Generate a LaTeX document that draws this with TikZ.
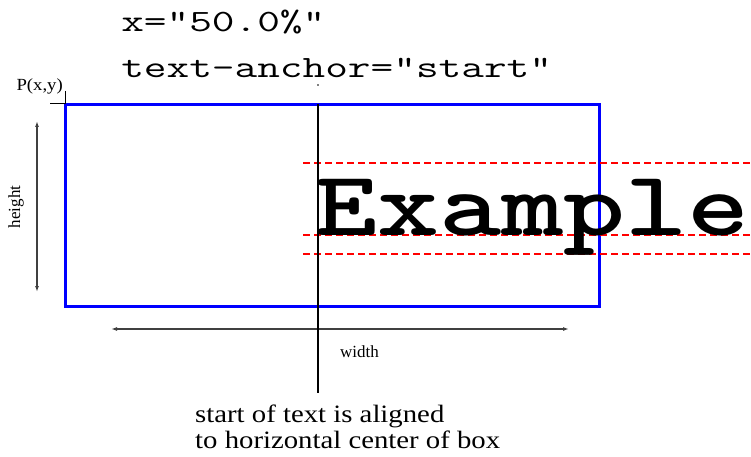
\documentclass[tikz,border=0pt]{standalone}
\usepackage{fontspec}
\setmainfont{Liberation Serif}
\usetikzlibrary{arrows.meta}
\begin{document}
\begin{tikzpicture}[x=1pt,y=-1pt,
  dimline/.style={line width=1.4pt,draw=black!75,{Latex[length=6pt,width=4pt]}-{Latex[length=6pt,width=4pt]}},
  guide/.style={red,line width=1.6pt,dash pattern=on 7pt off 4pt},
  smalllbl/.style={font=\fontsize{17}{19}\selectfont,inner sep=0pt},
  toptext/.style={anchor=base west,inner sep=0pt,xscale=1.42,font=\ttfamily\fontsize{31}{33}\selectfont},
]
\useasboundingbox (0,0) rectangle (751,457);
% top text
\node[toptext] (t1) at (121,32) {x="50.0\%"};
\node[toptext] (t2) at (121,78) {text-anchor="start"};
\fill (318,85) circle (0.9pt);
% box
\draw[blue,line width=3pt] (65,105) rectangle (599,306);
% crosshair at P
\coordinate (P) at (65,104);
\draw[line width=1pt] (50,104) -- (P);
\draw[line width=1pt] (65,91) -- (P);
\node[smalllbl,anchor=base east,xscale=1.1] (plbl) at (63,91) {P(x,y)};
% height
\coordinate (h1) at (37,121);
\coordinate (h2) at (37,292);
\draw[dimline] (h1) -- (h2);
\node[smalllbl,rotate=90] (hlbl) at (16,207) {height};
% width
\coordinate (w1) at (111,329);
\coordinate (w2) at (569,329);
\draw[dimline] (w1) -- (w2);
\node[smalllbl,anchor=base west] (wlbl) at (340,357) {width};
% guides
\draw[guide] (303,163) -- (751,163);
\draw[guide] (303,235) -- (751,235);
\draw[guide] (303,254) -- (751,254);
% Example
\node[anchor=base west,inner sep=0pt,xscale=1.285,font=\ttfamily\bfseries\fontsize{92}{92}\selectfont] (ex) at (315,235) {Example};
% center line
\coordinate (c1) at (318,104);
\coordinate (c2) at (318,393);
\draw[line width=2.6pt] (c1) -- (c2);
% bottom text
\node[anchor=base west,inner sep=0pt,align=left,xscale=1.15,font=\fontsize{25}{26}\selectfont] (bt) at (195,448) {start of text is aligned\\to horizontal center of box};
\end{tikzpicture}
\end{document}
